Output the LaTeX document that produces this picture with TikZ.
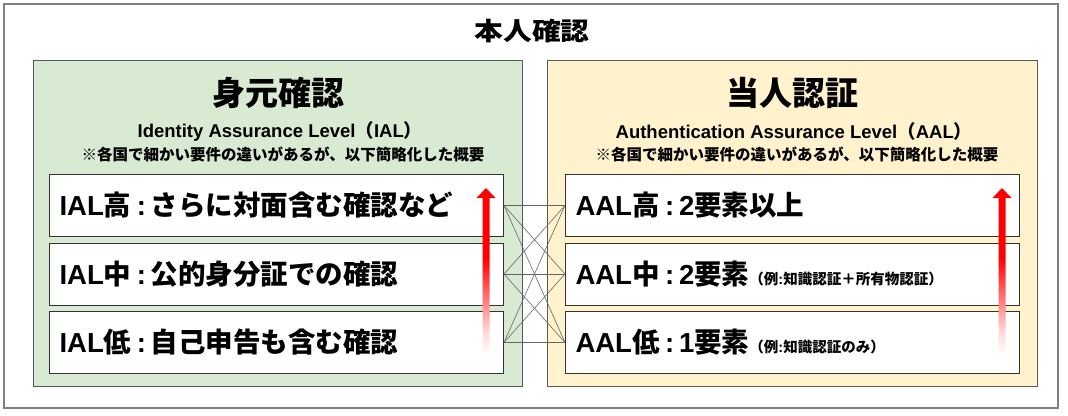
\documentclass[tikz,border=0pt]{standalone}
\usepackage{fontspec}
\setmainfont{Noto Sans CJK JP}
\newfontfamily\lat{Liberation Sans}
\usetikzlibrary{calc}
\newcommand\setfs[1]{\fontsize{#1bp}{#1bp}\selectfont}
\newcommand\colsep{\hspace{0.2em}{\lat :}\hspace{0.18em}}
\definecolor{idgreen}{RGB}{217,234,211}
\definecolor{autan}{RGB}{255,242,204}
\pgfdeclareverticalshading{redfade}{100bp}{color(0bp)=(white); color(25bp)=(white); color(32bp)=(red!15!white); color(54bp)=(red); color(100bp)=(red)}

\begin{document}
\begin{tikzpicture}[x=1bp, y=-1bp,
    panel/.style={draw=black!65, line width=0.9bp},
    lvbox/.style={draw=black!80, fill=white, line width=1bp, anchor=north west,
      minimum width=454bp, minimum height=62bp, text width=434bp, inner xsep=10bp,
      align=left, font=\bfseries\setfs{27.5}},
    link/.style={draw=black!60, line width=0.6bp},
    head/.style={font=\bfseries\setfs{33}},
    sub/.style={font=\bfseries\setfs{18.5}},
    note/.style={font=\bfseries\setfs{15.5}}]
    \useasboundingbox (0,0) rectangle (1068,415);
    \draw[draw=black!50, line width=1.2bp] (4,4) rectangle (1058,408);
    \node[font=\bfseries\setfs{25}, xscale=1.15] (title) at (532,31) {本人確認};
    % identity side
    \filldraw[panel, fill=idgreen] (33,60) rectangle (522,386);
    \node[head] (idhead) at (278,93) {身元確認};
    \node[sub] (idsub) at (280,131) {{\lat Identity Assurance Level}（{\lat IAL}）};
    \node[note] (idnote) at (283,154) {※各国で細かい要件の違いがあるが、以下簡略化した概要};
    \node[lvbox] (ial1) at (49,174) {{\lat IAL}高\colsep さらに対面含む確認など};
    \node[lvbox] (ial2) at (49,242.5) {{\lat IAL}中\colsep 公的身分証での確認};
    \node[lvbox] (ial3) at (49,311) {{\lat IAL}低\colsep 自己申告も含む確認};
    % authentication side
    \filldraw[panel, fill=autan] (547,60) rectangle (1037,386);
    \node[head] (auhead) at (792,93) {当人認証};
    \node[sub] (ausub) at (794,131) {{\lat Authentication Assurance Level}（{\lat AAL}）};
    \node[note] (aunote) at (797,154) {※各国で細かい要件の違いがあるが、以下簡略化した概要};
    \node[lvbox] (aal1) at (565,174) {{\lat AAL}高\colsep{\lat 2}要素以上};
    \node[lvbox] (aal2) at (565,242.5) {{\lat AAL}中\colsep{\lat 2}要素{\setfs{14.5}（例{\lat :}知識認証＋所有物認証）}};
    \node[lvbox] (aal3) at (565,311) {{\lat AAL}低\colsep{\lat 1}要素{\setfs{14.5}（例{\lat :}知識認証のみ）}};
    % links
    \foreach \i in {1,2,3}
      \foreach \j in {1,2,3}
        \draw[link] (ial\i.east) -- (aal\j.west);
    % level arrows
    \foreach \ax in {486,1002}
      \shade[shading=redfade] (\ax-3.5,355) -- (\ax-3.5,198) -- (\ax-9.5,198) -- (\ax,188)
        -- (\ax+9.5,198) -- (\ax+3.5,198) -- (\ax+3.5,355) -- cycle;
  \end{tikzpicture}
\end{document}
